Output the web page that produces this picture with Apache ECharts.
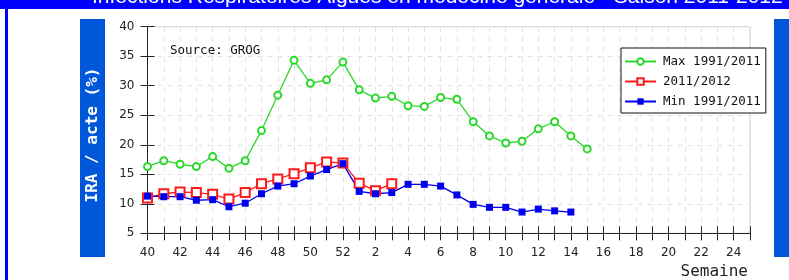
<!DOCTYPE html>
<html>
<head>
<meta charset="utf-8">
<script src="https://cdn.jsdelivr.net/npm/echarts@6/dist/echarts.min.js"></script>
<style>
  html, body { margin: 0; padding: 0; background: #fff; }
  #chart { width: 789px; height: 280px; }
</style>
</head>
<body>
<div id="chart"></div>
<script>
  // weeks of the season, 40 -> 52 then 1 -> 25
  const weeks = ['40', '41', '42', '43', '44', '45', '46', '47', '48', '49', '50', '51', '52',
    '1', '2', '3', '4', '5', '6', '7', '8', '9', '10', '11', '12', '13', '14', '15', '16',
    '17', '18', '19', '20', '21', '22', '23', '24', '25'];
  const maxValues = [16.3, 17.3, 16.7, 16.3, 18.0, 16.0, 17.3, 22.4, 28.4, 34.3, 30.4, 31.0, 34.0,
    29.3, 27.9, 28.2, 26.6, 26.5, 28.0, 27.7, 23.9, 21.5, 20.3, 20.6, 22.7, 23.9, 21.5, 19.3];
  const seasonValues = [11.0, 11.7, 12.0, 11.9, 11.6, 10.8, 11.9, 13.4, 14.2, 15.1, 16.1, 17.1, 16.9,
    13.5, 12.2, 13.4];
  const minValues = [11.3, 11.2, 11.2, 10.6, 10.7, 9.5, 10.1, 11.7, 13.0, 13.4, 14.7, 15.8, 16.8,
    12.1, 11.7, 11.9, 13.3, 13.3, 13.0, 11.5, 9.9, 9.4, 9.4, 8.6, 9.1, 8.8, 8.6];
  const seriesNames = ['Max 1991/2011', '2011/2012', 'Min 1991/2011'];

  const chart = echarts.init(document.getElementById('chart'), null, { renderer: 'canvas' });

  const labelFont = { fontFamily: 'DejaVu Sans', fontSize: 12, color: '#222' };
  const mono = 'DejaVu Sans Mono';

  const option = {
    animation: false,
    grid: {
      left: 147.5,
      right: 39,
      top: 26.7,
      bottom: 46.7,
      show: true,
      borderColor: '#cfcfcf',
      borderWidth: 1,
    },
    xAxis: [
      {
        type: 'category',
        data: weeks,
        boundaryGap: false,
        axisLine: { lineStyle: { color: '#222', width: 1 } },
        axisTick: { show: true, interval: 0, length: 7, lineStyle: { color: '#222' } },
        axisLabel: { ...labelFont, interval: 1, margin: 14 },
        splitLine: { show: true, interval: 0, lineStyle: { color: '#e2e2e2', type: [5, 5] } },
      },
      {
        // inner half of the crossing ticks
        type: 'category',
        data: weeks,
        boundaryGap: false,
        position: 'bottom',
        axisLine: { show: false },
        axisTick: { show: true, inside: true, interval: 0, length: 7, lineStyle: { color: '#222' } },
        axisLabel: { show: false },
        splitLine: { show: false },
      },
    ],
    yAxis: [
      {
        type: 'value',
        min: 5,
        max: 40,
        interval: 5,
        axisLine: { show: true, lineStyle: { color: '#222', width: 1 } },
        axisTick: { show: true, length: 7, lineStyle: { color: '#222' } },
        axisLabel: { ...labelFont, margin: 13 },
        splitLine: { show: true, lineStyle: { color: '#e2e2e2', type: [5, 5] } },
      },
      {
        type: 'value',
        min: 5,
        max: 40,
        interval: 5,
        position: 'left',
        offset: 0,
        axisLine: { show: false },
        axisTick: { show: true, inside: true, length: 7, lineStyle: { color: '#222' } },
        axisLabel: { show: false },
        splitLine: { show: false },
      },
    ],
    legend: {
      orient: 'vertical',
      left: 621,
      top: 48,
      data: seriesNames,
      backgroundColor: '#fff',
      borderColor: '#111',
      borderWidth: 1,
      borderRadius: 0,
      padding: [7, 5, 5, 3],
      itemWidth: 31,
      itemHeight: 8,
      itemGap: 7,
      textStyle: { fontFamily: mono, fontSize: 12.5, color: '#111', padding: [0, 0, 0, 2] },
    },
    series: [
      {
        name: seriesNames[0],
        type: 'line',
        data: maxValues,
        color: '#2ad82a',
        lineStyle: { width: 1.3 },
        symbol: 'emptyCircle',
        symbolSize: 7,
        itemStyle: { borderWidth: 2 },
      },
      {
        name: seriesNames[1],
        type: 'line',
        data: seasonValues,
        color: '#ff1a1a',
        lineStyle: { width: 1.3 },
        symbol: 'emptyRect',
        symbolSize: 9,
        itemStyle: { borderWidth: 1.5 },
      },
      {
        name: seriesNames[2],
        type: 'line',
        data: minValues,
        color: '#0000ee',
        lineStyle: { width: 1.3 },
        symbol: 'rect',
        symbolSize: 7,
      },
    ],
    graphic: [
      // title band at the very top, text mostly cut off
      { type: 'rect', shape: { x: 0, y: 0, width: 789, height: 9 }, style: { fill: '#0000ff' }, z: 10 },
      { type: 'rect', shape: { x: 5, y: 0, width: 3, height: 280 }, style: { fill: '#0000ff' }, z: 10 },
      {
        type: 'text',
        x: 92,
        y: -2.5,
        z: 11,
        style: {
          text: 'Infections Respiratoires Aigues en médecine générale - Saison 2011-2012',
          fill: '#fff',
          font: '21px "Liberation Sans"',
          verticalAlign: 'middle',
        },
      },
      // side boxes
      { type: 'rect', shape: { x: 80, y: 19, width: 25, height: 238 }, style: { fill: '#0057d9' }, z: 10 },
      { type: 'rect', shape: { x: 774, y: 19, width: 15, height: 238 }, style: { fill: '#0057d9' }, z: 10 },
      {
        type: 'text',
        x: 93,
        y: 135,
        rotation: Math.PI / 2,
        z: 11,
        style: {
          text: 'IRA / acte (%)',
          fill: '#fff',
          font: 'bold 16px "DejaVu Sans Mono"',
          align: 'center',
          verticalAlign: 'middle',
        },
      },
      {
        type: 'text',
        x: 170,
        y: 51,
        z: 11,
        style: { text: 'Source: GROG', fill: '#111', font: '12.5px "DejaVu Sans Mono"', verticalAlign: 'middle' },
      },
      {
        type: 'text',
        x: 748,
        y: 272,
        z: 11,
        style: { text: 'Semaine', fill: '#222', font: '16px "DejaVu Sans Mono"', align: 'right', verticalAlign: 'middle' },
      },
    ],
  };

  chart.setOption(option);
</script>
</body>
</html>
